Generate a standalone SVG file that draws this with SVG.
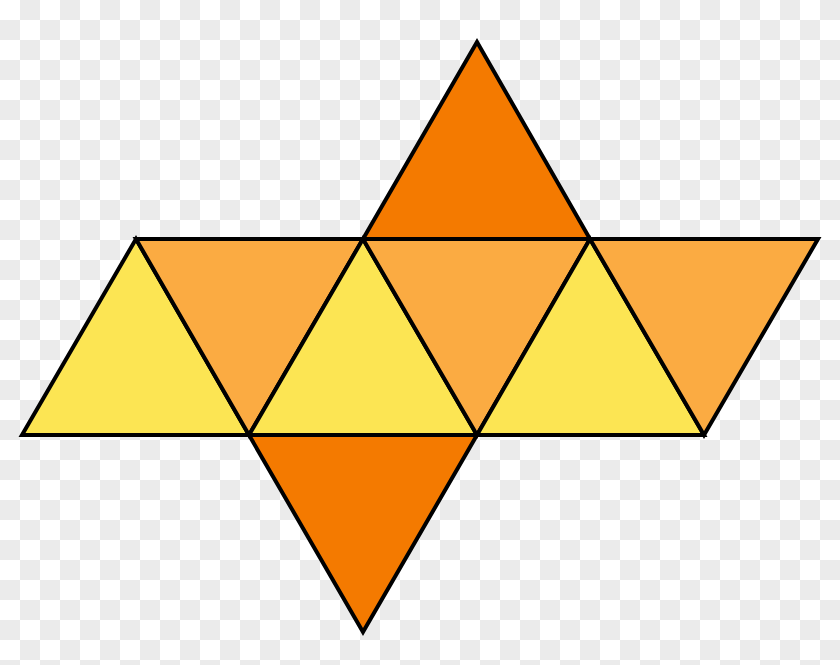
<svg xmlns="http://www.w3.org/2000/svg" width="840" height="665" viewBox="0 0 840 665">
<defs>
<pattern id="chk" width="40" height="40" patternUnits="userSpaceOnUse">
<rect width="40" height="40" fill="#ffffff"/>
<rect x="20" y="0" width="20" height="20" fill="#ebebeb"/>
<rect x="0" y="20" width="20" height="20" fill="#ebebeb"/>
</pattern>
<style>
.f{stroke:#000;stroke-width:4;stroke-linejoin:miter}
.y{fill:#fce553}
.l{fill:#fbab42}
.d{fill:#f47a00}
</style>
</defs>
<rect width="840" height="665" fill="url(#chk)"/>
<g id="faces">
<polygon id="y1" class="f y" points="22,435 136,239 249,435"/>
<polygon id="l1" class="f l" points="136,239 363,239 249,435"/>
<polygon id="y2" class="f y" points="249,435 363,239 477,435"/>
<polygon id="l2" class="f l" points="363,239 590,239 477,435"/>
<polygon id="y3" class="f y" points="477,435 590,239 704,435"/>
<polygon id="l3" class="f l" points="590,239 818,239 704,435"/>
<polygon id="d1" class="f d" points="363,239 477,42 590,239"/>
<polygon id="d2" class="f d" points="249,435 477,435 363,632"/>
</g>
</svg>
